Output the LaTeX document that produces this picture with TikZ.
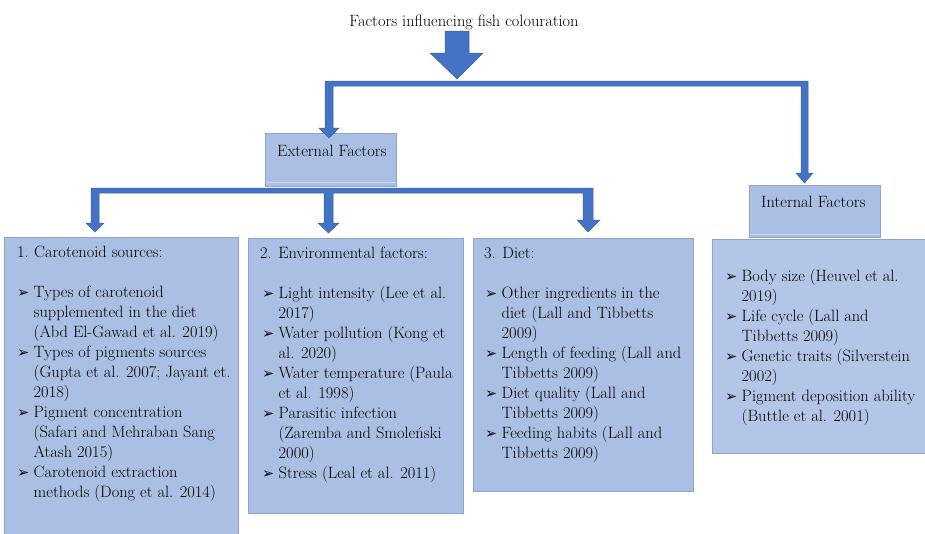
\documentclass[tikz,border=0pt]{standalone}
\usepackage{fontspec}
\newfontfamily\dvs{DejaVu Sans}
\definecolor{arrowblue}{HTML}{4472C4}
\definecolor{arrowedge}{HTML}{3B63AE}
\definecolor{boxfill}{HTML}{ABBEE3}
\definecolor{boxedge}{HTML}{8DA3D0}
\definecolor{boxfilltwo}{HTML}{B4C6E7}
\newcommand\bul{{\dvs\fontsize{14.5}{14.5}\selectfont ➢}}
\newcommand\bitem[1]{\hbox{\makebox[16.5pt][l]{\bul}#1}}
\newcommand\citem[1]{\hbox{\hspace{16.5pt}#1}}
\newcommand\blankline{\hbox{}}
\begin{document}
\begin{tikzpicture}[x=1pt,y=-1pt, font=\rmfamily\fontsize{16.4}{20}\selectfont,
  box/.style={draw=boxedge, fill=boxfill, line width=1pt, inner sep=0pt, anchor=north west},
  labelbox/.style={box, fill=boxfill},
  blockarrow/.style={fill=arrowblue, draw=arrowedge, line width=0.5pt, line join=miter},
  txt/.style={anchor=base west, inner sep=0pt, text=black}]
\useasboundingbox (0,0) rectangle (925,533);
\clip (0,0) rectangle (925,533);

% boxes
\node[box, minimum width=234pt, minimum height=320pt] (carot) at (4,237) {};
\node[box, minimum width=215pt, minimum height=275pt] (envir) at (248,238) {};
\node[box, minimum width=220pt, minimum height=253pt] (diet) at (473,238) {};
\node[box, fill=boxfilltwo, minimum width=230pt, minimum height=214pt] (inner) at (712,239) {};
\node[labelbox, minimum width=131pt, minimum height=53pt] (external) at (265,133) {};
\node[labelbox, minimum width=131pt, minimum height=52pt] (internal) at (749,185) {};
\draw[white!45!boxfill, line width=0.8pt] ([xshift=1pt,yshift=5pt]external.south west) -- ([xshift=-1pt,yshift=5pt]external.south east);
\draw[white!45!boxfill, line width=0.8pt] ([xshift=1pt,yshift=4pt]internal.south west) -- ([xshift=-1pt,yshift=4pt]internal.south east);

% title
\node[anchor=base, inner sep=0pt] (title) at (464,26) {Factors influencing fish colouration};

% arrows
\draw[blockarrow] (445,31) -- (469,31) -- (469,53) -- (483,53) -- (457,79) -- (430,53) -- (445,53) -- cycle;
\draw[blockarrow] (329,138) -- (339,128) -- (333,128) -- (333,86) -- (801,86) -- (801,173) -- (796,173)
  -- (804.5,183) -- (813,173) -- (808,173) -- (808,81) -- (325,81) -- (325,128) -- (319,128) -- cycle;
\draw[blockarrow] (95,232) -- (104,223) -- (99,223) -- (99,193) -- (324,193) -- (324,223) -- (318,223)
  -- (328.5,233) -- (339,223) -- (333,223) -- (333,193) -- (583,193) -- (583,220) -- (577,220)
  -- (588,232) -- (600,220) -- (593,220) -- (593,188) -- (91,188) -- (91,223) -- (86,223) -- cycle;

% labels
\node[txt] (extlabel) at (277,156) {External Factors};
\node[txt] (intlabel) at (761,207) {Internal Factors};

\node[txt] (carottext) at (17,257) {\vtop{\baselineskip=20pt
\hbox{\makebox[17pt][l]{1.}Carotenoid sources:}
\blankline
\bitem{Types of carotenoid}
\citem{supplemented in the diet}
\citem{(Abd El-Gawad et al. 2019)}
\bitem{Types of pigments sources}
\citem{(Gupta et al. 2007; Jayant et.}
\citem{2018)}
\bitem{Pigment concentration}
\citem{(Safari and Mehraban Sang}
\citem{Atash 2015)}
\bitem{Carotenoid extraction}
\citem{methods (Dong et al. 2014)}}};

\node[txt] (envirtext) at (262,258) {\vtop{\baselineskip=20pt
\hbox{\hspace{-2pt}2. Environmental factors:}
\blankline
\bitem{Light intensity (Lee et al.}
\citem{2017)}
\bitem{Water pollution (Kong et}
\citem{al. 2020)}
\bitem{Water temperature (Paula}
\citem{et al. 1998)}
\bitem{Parasitic infection}
\citem{(Zaremba and Smoleński}
\citem{2000)}
\bitem{Stress (Leal et al. 2011)}}};

\node[txt] (diettext) at (485,258) {\vtop{\baselineskip=20pt
\hbox{\hspace{-1pt}3. Diet:}
\blankline
\bitem{Other ingredients in the}
\citem{diet (Lall and Tibbetts}
\citem{2009)}
\bitem{Length of feeding (Lall and}
\citem{Tibbetts 2009)}
\bitem{Diet quality (Lall and}
\citem{Tibbetts 2009)}
\bitem{Feeding habits (Lall and}
\citem{Tibbetts 2009)}}};

\node[txt] (innertext) at (725,281) {\vtop{\baselineskip=20pt
\bitem{Body size (Heuvel et al.}
\citem{2019)}
\bitem{Life cycle (Lall and}
\citem{Tibbetts 2009)}
\bitem{Genetic traits (Silverstein}
\citem{2002)}
\bitem{Pigment deposition ability}
\citem{(Buttle et al. 2001)}}};
\end{tikzpicture}
\end{document}
